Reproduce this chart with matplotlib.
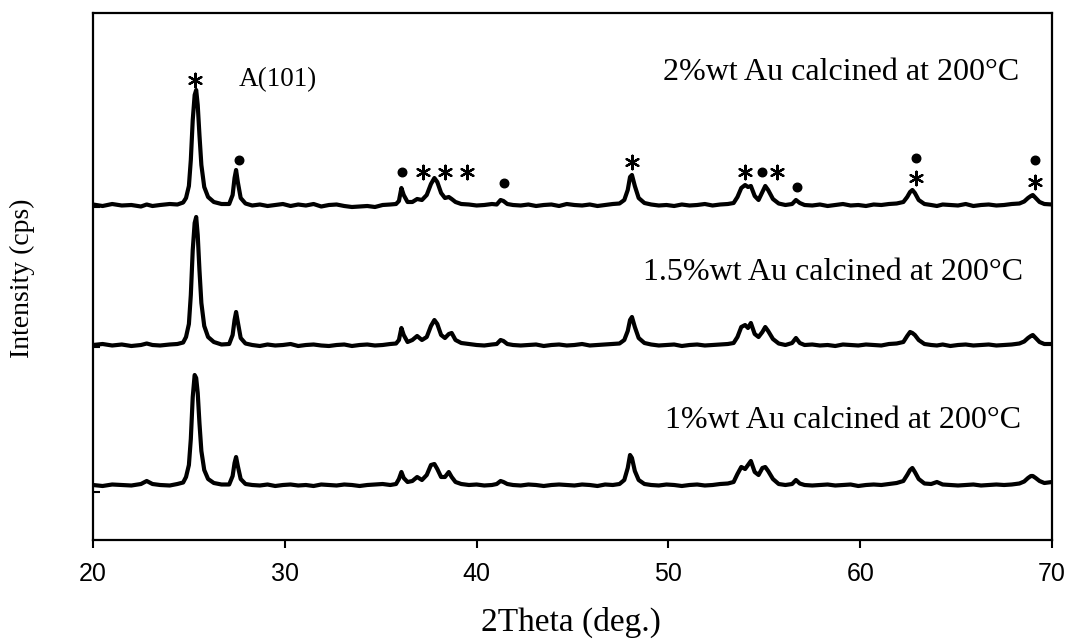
import matplotlib
matplotlib.use("Agg")
import matplotlib.pyplot as plt
import numpy as np

# ---------------- data (2theta in degrees, intensity in arbitrary units) ----------------
two_theta = [
    20.0, 20.5, 21.0, 21.5, 22.0, 22.5, 22.8, 23.1, 23.5, 24.0, 24.4, 24.7,
    24.85, 25.0, 25.1, 25.2, 25.3, 25.38, 25.46, 25.55, 25.65, 25.8, 26.0, 26.3, 26.7,
    27.1, 27.28, 27.38, 27.46, 27.55, 27.7, 27.95,
    28.3, 28.7, 29.1, 29.5, 29.9, 30.3, 30.7, 31.1, 31.5, 31.9, 32.3, 32.7, 33.1, 33.5,
    33.9, 34.3, 34.7, 35.1, 35.5, 35.8,
    35.95, 36.08, 36.2, 36.4, 36.65, 36.9, 37.15, 37.4, 37.62, 37.8, 37.95, 38.15, 38.35,
    38.55, 38.7, 38.9, 39.2,
    39.6, 40.0, 40.4, 40.8, 41.05,
    41.25, 41.4, 41.6, 41.9,
    42.3, 42.7, 43.1, 43.5, 43.9, 44.3, 44.7, 45.1, 45.5, 45.9, 46.3, 46.7, 47.1, 47.45,
    47.7, 47.88, 48.0, 48.1, 48.25, 48.45, 48.75,
    49.1, 49.5, 49.9, 50.3, 50.7, 51.1, 51.5, 51.9, 52.3, 52.7, 53.1, 53.4,
    53.6, 53.8, 54.0, 54.15, 54.3, 54.5, 54.7, 54.9, 55.05, 55.2, 55.45, 55.75,
    56.1, 56.45, 56.65, 56.85, 57.1,
    57.5, 57.9, 58.3, 58.7, 59.1, 59.5, 59.9, 60.3, 60.7, 61.1, 61.5, 61.9, 62.25,
    62.45, 62.6, 62.72, 62.85, 63.05, 63.35,
    63.7, 64.0, 64.3, 64.7, 65.1, 65.5, 65.9, 66.3, 66.7, 67.1, 67.5, 67.9, 68.3, 68.55,
    68.75, 68.9, 69.0, 69.15, 69.35, 69.6, 70.0,
]

intensity_2pct = [
    0.5, -1, 1, -0.5, 0, -1.5, 0.5, -1, 0, 1, 0.5, 2.5,
    7, 19, 45, 85, 110, 115, 100, 70, 40, 18, 8, 3, 1,
    1, 10, 27, 35, 23, 7, 1.5,
    -0.5, 0.5, -1, 0, 1, -1, 0.5, -0.5, 1, -1.5, 0, 0.5, -1, -2,
    -1.5, -1, -2, 0, 0.5, 1,
    4, 17, 10, 3, 3, 6, 5, 10, 21, 27, 23, 12, 7,
    8, 6, 3, 1,
    0.5, -0.5, 0, 1, 0.5,
    5, 4, 1, 0,
    -0.5, 0.5, -1, 0, 0.5, -1, 1, 0, -0.5, 0.5, -1, 0, 1, 1.5,
    5, 15, 28, 30, 19, 7, 2,
    0.5, -0.5, 0, -1, 0.5, -0.5, 0, 1, -0.5, 0.5, 1, 2,
    8, 17, 20, 18, 19, 9, 5, 13, 19, 15, 6, 1.5,
    0, 1, 5, 2, 0,
    -0.5, 0.5, -1, 0, 1, -0.5, 0, -1, 0.5, 0, 1, 1.5, 3,
    8, 13, 15, 12, 5, 1,
    0, -1, 0.5, 0, -0.5, 1, -1, 0, 0.5, -0.5, 0, 1, 1.5, 3.5,
    7, 9, 10, 7, 3, 1, 0.5,
]

intensity_15pct = [
    0, 1, -0.5, 0.5, -1, 0, 1.5, 0, -0.5, 0.5, 1, 2.5,
    8, 21, 50, 95, 122, 128, 110, 75, 42, 19, 8, 3, 0.5,
    1, 10, 25, 33, 23, 7, 1.5,
    0, -1, 0.5, -0.5, 0, 1, -1, 0, 0.5, -0.5, -1, 0, 0.5, -1,
    0, 0.5, -0.5, 0, 1, 1.5,
    5, 17, 10, 3, 5, 9, 5, 8, 19, 25, 21, 10, 7,
    11, 12, 5, 2,
    1, 0, -0.5, 0.5, 1,
    5, 4, 1, 0,
    -0.5, 0, 0.5, -1, 0, 0.5, -0.5, 0, 1, -0.5, 0, 0.5, 1, 1.5,
    5, 14, 25, 28, 18, 7, 2,
    0.5, -0.5, 0, 0.5, -1, 0, 0.5, -0.5, 0, 0.5, 1, 2,
    8, 18, 20, 17, 22, 11, 8, 13, 18, 14, 6, 1.5,
    0, 2, 7, 2, 0,
    0.5, -0.5, 0, -1, 0.5, 0, -0.5, 0.5, 0, -0.5, 1, 1.5, 3,
    9, 13, 12, 10, 5, 1,
    0, -0.5, 0.5, -1, 0, 0.5, -0.5, 0, 0.5, -0.5, 0, 0.5, 1.5, 3.5,
    7, 9, 10, 7, 3, 1, 1,
]

intensity_1pct = [
    0, -1, 0.5, 0, -0.5, 1, 4, 1, 0, -0.5, 1, 2.5,
    8, 20, 46, 88, 110, 107, 92, 62, 34, 15, 6, 2, 0.5,
    0.5, 9, 22, 28, 19, 6, 1,
    0, -0.5, 0.5, -1, 0, 0.5, -0.5, 0, -1, 0.5, 0, -0.5, 0.5, 0,
    -1, 0, 0.5, 1, 0, 1,
    6, 13, 7, 3, 4, 8, 5, 10, 20, 21, 16, 8, 8,
    13, 8, 3, 1,
    0, 0.5, -0.5, 0, 1,
    4, 3, 1, 0,
    -0.5, 0.5, 0, -1, 0, 0.5, 0, -0.5, 0.5, 0, -1, 0.5, 0, 1,
    5, 17, 30, 27, 14, 5, 1,
    0, -0.5, 0.5, 0, -1, 0, 0.5, -0.5, 0, 1, 1.5, 3,
    11, 18, 16, 20, 24, 13, 10, 17, 18, 14, 6, 1,
    0, 1, 5, 1.5, 0,
    -0.5, 0, 0.5, -0.5, 0, 0.5, -1, 0, 0.5, 0, 1, 2, 4,
    10, 15, 17, 13, 6, 1.5,
    1, 3, 0.5, 0, -0.5, 0, 0.5, -0.5, 0, 0.5, 0, 0.5, 1.5, 3.5,
    7, 9, 9, 7, 4, 2, 3,
]

series_labels = ["2%wt Au calcined at 200°C",
                 "1.5%wt Au calcined at 200°C",
                 "1%wt Au calcined at 200°C"]

# phase markers on the top pattern: anatase (*) and rutile (dot)
anatase_marks_x = [25.32, 37.2, 38.35, 39.5, 48.1, 53.97, 55.67, 62.9, 69.1]
rutile_marks_x = [27.6, 36.1, 41.45, 54.86, 56.73, 62.9, 69.1]

x_ticks = [20, 30, 40, 50, 60, 70]

# ---------------- layout ----------------
W, H, DPI = 1070, 639, 100
fig = plt.figure(figsize=(W / DPI, H / DPI), dpi=DPI)
ax = fig.add_axes([93 / W, 1 - 540 / H, (1052 - 93) / W, (540 - 13) / H])

offsets = [335, 195, 55]          # vertical stacking offsets
ymax = 527
series = [intensity_2pct, intensity_15pct, intensity_1pct]
x = np.array(two_theta)
for vals, off in zip(series, offsets):
    ax.plot(x, np.array(vals) + off, color="black", lw=3.0,
            solid_joinstyle="round")

ax.set_xlim(20, 70)
ax.set_ylim(0, ymax)

# annotation heights (axis units) for top pattern markers
an_y = [460, 368, 368, 368, 378, 368, 368, 362, 358]
ru_y = [380, 368, 357, 368, 353, 382, 380]
ax.scatter(anatase_marks_x, an_y, marker=(6, 2, 0), s=95, color="black",
           linewidths=1.6, zorder=5)
ax.scatter(rutile_marks_x, ru_y, marker="o", s=38, color="black", zorder=5)

serif = ["Liberation Serif", "DejaVu Serif"]
ax.text(27.6, 460, "A(101)", fontsize=19.5, family=serif, va="center", ha="left")
label_pos = [(68.3, 468), (68.5, 268), (68.4, 120)]
for lab, (lx, ly) in zip(series_labels, label_pos):
    ax.text(lx, ly, lab, fontsize=23, family=serif, va="center", ha="right")

ax.set_xticks(x_ticks)
ax.set_xticklabels([str(t) for t in x_ticks], family=["Liberation Sans"], fontsize=18)
ax.tick_params(axis="x", direction="out", length=6, width=1.5, pad=10)
ax.set_yticks([333, 193, 48])
ax.set_yticklabels([])
ax.tick_params(axis="y", direction="in", length=5, width=1.5)

for s in ax.spines.values():
    s.set_linewidth(1.6)

fig.text(571 / W, 1 - 631 / H, "2Theta (deg.)", fontsize=24, family=serif,
         va="baseline", ha="center")
fig.text(22 / W, 1 - 278 / H, "Intensity (cps)", rotation=90, fontsize=20,
         family=serif, va="center", ha="center")

fig.savefig("out.png", dpi=DPI)
